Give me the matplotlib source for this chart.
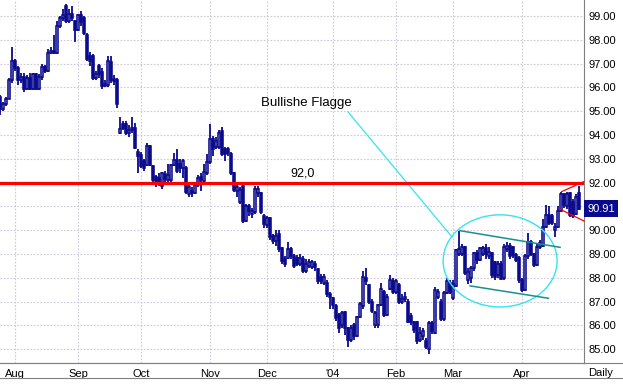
import matplotlib
matplotlib.use("Agg")
import matplotlib.pyplot as plt
import matplotlib.transforms as mtransforms
from matplotlib.patches import Ellipse
from matplotlib.lines import Line2D
import numpy as np

plt.rcParams['font.family'] = ['Liberation Sans', 'DejaVu Sans']

#----------------------------------------------------
# daily bars, late Jul 2003 .. late Apr 2004
opens = [95.6, 95.1, 95.3, 95.5, 96.3, 97.1, 96.8, 96.3, 96.45, 95.95,
         96.4, 95.95, 96.55, 95.95, 96.45, 96.85, 96.7, 97.45, 97.55, 97.45,
         98.6, 98.9, 99.4, 98.8, 99.1, 98.8, 98.4, 99.05, 98.9, 98.2,
         97.3, 97.3, 96.4, 96.9, 96.65, 96.05, 96.1, 97.05, 96.35, 96.3,
         94.1, 94.45, 94.45, 94.1, 94.2, 94.3, 93.3, 93.15, 92.9, 92.75,
         93.55, 92.7, 92.25, 92.2, 91.85, 92.35, 92.1, 92.1, 92.75, 92.95,
         92.8, 92.6, 92.6, 91.5, 91.65, 91.55, 91.9, 92.25, 92.05, 92.4,
         92.85, 93.85, 93.5, 93.5, 94.15, 93.4, 93.4, 93.2, 92.4, 91.65,
         91.2, 91.85, 90.4, 91.0, 90.7, 90.75, 91.55, 91.55, 90.6, 90.2,
         90.5, 89.75, 89.55, 89.85, 89.25, 88.8, 88.85, 89.2, 88.9, 88.85,
         88.6, 88.8, 88.3, 88.5, 88.45, 88.6, 88.35, 88.05, 87.8, 87.8,
         87.3, 87.15, 86.8, 86.45, 86.0, 86.55, 85.9, 85.4, 86.0, 85.55,
         86.35, 86.8, 88.0, 87.7, 87.0, 86.0, 86.0, 86.85, 87.4, 86.45,
         87.55, 87.85, 87.4, 87.7, 87.0, 87.1, 87.0, 86.4, 86.15, 86.15,
         85.4, 85.55, 85.35, 85.0, 86.1, 85.7, 87.2, 87.0, 86.25, 87.35,
         87.8, 87.15, 87.65, 89.0, 89.0, 89.3, 87.9, 88.0, 88.4, 89.05,
         88.75, 89.0, 89.25, 88.9, 89.05, 88.65, 88.1, 88.6, 88.0, 89.2,
         89.35, 89.3, 88.95, 88.85, 87.9, 87.5, 88.9, 89.5, 89.0, 88.55,
         89.3, 89.35, 90.15, 90.65, 90.6, 90.0, 90.15, 90.8, 91.5, 91.0,
         91.55, 91.2, 90.7, 91.55]
highs = [95.7, 95.4, 95.6, 96.4, 97.7, 97.2, 96.9, 96.6, 96.6, 96.5,
         96.6, 96.6, 96.6, 96.55, 97.0, 96.95, 97.6, 97.7, 98.2, 98.8,
         99.0, 99.3, 99.5, 99.3, 99.4, 98.85, 99.1, 99.2, 99.0, 98.3,
         97.5, 97.4, 96.7, 97.0, 96.8, 96.3, 97.3, 97.3, 96.5, 96.4,
         94.75, 94.6, 94.6, 94.4, 94.75, 94.5, 93.4, 93.3, 93.0, 93.65,
         93.6, 92.75, 92.3, 92.4, 92.45, 92.5, 92.8, 92.8, 93.25, 93.4,
         93.0, 93.0, 92.7, 91.9, 91.8, 92.0, 92.3, 92.4, 92.8, 93.2,
         94.45, 93.95, 93.9, 94.2, 94.35, 93.5, 93.5, 93.3, 92.45, 91.9,
         91.8, 91.9, 91.1, 91.1, 90.95, 91.85, 91.85, 91.6, 90.7, 90.6,
         90.55, 89.85, 90.0, 90.0, 89.3, 88.9, 89.5, 89.3, 89.0, 88.95,
         89.0, 88.9, 88.8, 88.8, 88.75, 88.7, 88.4, 88.15, 88.15, 87.9,
         87.4, 87.2, 86.9, 86.5, 86.6, 86.6, 85.95, 86.0, 86.1, 86.4,
         87.0, 88.3, 88.4, 87.75, 87.1, 86.6, 86.9, 87.8, 87.5, 87.3,
         88.1, 88.0, 87.95, 87.8, 87.3, 87.4, 87.1, 86.5, 86.2, 86.2,
         85.95, 85.9, 85.45, 86.2, 86.2, 87.6, 87.55, 87.1, 87.45, 88.0,
         87.9, 87.9, 89.2, 89.95, 89.4, 89.35, 88.4, 88.5, 89.1, 89.15,
         89.3, 89.35, 89.4, 89.3, 89.1, 88.7, 88.7, 88.7, 89.4, 89.5,
         89.45, 89.35, 89.05, 88.9, 88.0, 89.0, 89.9, 89.6, 89.05, 89.4,
         89.6, 90.45, 91.05, 91.0, 90.7, 90.3, 91.0, 91.6, 91.55, 91.6,
         91.6, 91.3, 91.5, 91.85]
lows = [94.85, 95.0, 95.2, 95.5, 96.2, 96.7, 96.1, 96.2, 95.8, 95.9,
        95.9, 95.9, 95.9, 95.9, 96.3, 96.6, 96.65, 97.4, 97.4, 97.4,
        98.5, 98.8, 98.7, 98.7, 98.8, 97.9, 98.35, 98.6, 98.2, 97.1,
        96.9, 96.3, 96.3, 96.4, 95.95, 96.0, 96.0, 96.2, 96.1, 95.15,
        94.05, 94.2, 94.0, 93.9, 94.1, 93.4, 92.4, 92.6, 92.5, 92.7,
        92.7, 92.0, 91.8, 91.85, 91.75, 92.0, 92.0, 92.0, 92.7, 92.4,
        92.4, 92.2, 91.5, 91.4, 91.4, 91.5, 91.8, 91.65, 92.0, 92.3,
        92.8, 93.1, 93.4, 93.4, 93.1, 92.9, 93.1, 92.3, 91.6, 91.4,
        91.1, 90.3, 90.35, 90.6, 90.5, 90.7, 91.4, 90.7, 90.1, 90.1,
        89.6, 89.4, 89.35, 89.1, 88.6, 88.45, 88.8, 88.8, 88.4, 88.5,
        88.5, 88.2, 88.2, 88.4, 88.35, 88.3, 87.75, 87.75, 87.7, 87.2,
        86.7, 86.7, 86.2, 85.7, 85.9, 85.6, 85.1, 85.3, 85.4, 85.5,
        86.3, 86.7, 87.7, 86.9, 86.5, 85.9, 85.9, 86.8, 86.35, 86.4,
        87.5, 87.3, 87.3, 86.9, 86.9, 87.0, 86.1, 86.0, 85.7, 85.2,
        85.3, 85.4, 85.0, 84.8, 85.65, 85.65, 87.1, 86.2, 86.2, 87.3,
        87.3, 87.05, 87.6, 88.9, 88.9, 88.1, 87.75, 87.8, 88.3, 88.6,
        88.7, 88.9, 88.8, 88.8, 88.0, 87.9, 88.0, 87.9, 87.9, 89.1,
        88.8, 88.85, 88.65, 87.8, 87.4, 87.45, 88.8, 88.9, 88.45, 88.5,
        89.2, 89.3, 90.1, 90.2, 90.2, 89.7, 90.1, 90.75, 90.95, 90.9,
        90.55, 90.5, 90.65, 90.85]
closes = [95.1, 95.3, 95.5, 96.3, 97.1, 96.8, 96.3, 96.45, 95.95, 96.4,
          95.95, 96.55, 95.95, 96.45, 96.85, 96.7, 97.45, 97.55, 97.45, 98.6,
          98.9, 99.05, 98.8, 99.1, 98.9, 98.4, 99.05, 98.75, 98.3, 97.2,
          97.1, 96.4, 96.55, 96.55, 96.05, 96.15, 97.1, 96.3, 96.25, 95.3,
          94.25, 94.3, 94.1, 94.2, 94.3, 93.45, 93.1, 92.7, 92.6, 93.55,
          92.75, 92.1, 92.05, 92.0, 92.4, 92.15, 92.3, 92.75, 92.95, 92.5,
          92.6, 92.9, 91.6, 91.8, 91.55, 91.9, 92.2, 92.1, 92.45, 92.85,
          93.85, 93.4, 93.75, 94.1, 93.2, 93.2, 93.25, 92.4, 91.7, 91.8,
          91.7, 90.4, 91.0, 90.8, 90.8, 91.75, 91.75, 90.75, 90.25, 90.5,
          89.7, 89.55, 89.75, 89.2, 88.7, 88.6, 89.2, 88.9, 88.5, 88.6,
          88.85, 88.3, 88.6, 88.65, 88.65, 88.45, 87.85, 87.85, 88.05, 87.3,
          87.2, 86.85, 86.3, 85.9, 86.5, 85.9, 85.4, 85.9, 85.55, 86.35,
          86.9, 88.05, 87.85, 87.0, 86.6, 86.5, 86.85, 87.55, 86.45, 87.2,
          87.9, 87.4, 87.85, 87.0, 87.1, 87.2, 86.15, 86.15, 85.8, 85.35,
          85.7, 85.75, 85.1, 86.1, 85.75, 87.5, 87.4, 86.25, 87.35, 87.85,
          87.4, 87.75, 89.15, 89.2, 89.3, 88.2, 88.25, 88.4, 89.05, 88.75,
          89.25, 89.25, 89.0, 89.1, 88.1, 88.05, 88.6, 87.95, 89.3, 89.35,
          88.9, 88.95, 88.75, 87.9, 87.5, 88.9, 89.5, 89.0, 88.55, 89.3,
          89.45, 90.15, 90.65, 90.3, 90.3, 90.15, 90.8, 91.5, 91.05, 91.5,
          90.65, 90.6, 91.4, 90.91]

month_labels = ["Aug", "Sep", "Oct", "Nov", "Dec", "'04", "Feb", "Mar", "Apr"]
month_bar = [5, 26, 47, 70, 89, 111, 132, 151, 174]   # bar index of first trading day
price_ticks = list(range(85, 100))
level = 92.0
#----------------------------------------------------

navy = '#0a0a8c'
o = np.array(opens); h = np.array(highs); l = np.array(lows); c = np.array(closes)
idx = np.arange(len(c))
up = c >= o

fig = plt.figure(figsize=(6.23, 3.9), dpi=100)
ax = fig.add_axes([0, 27/390, 584/623, 363/390])
ax.set_xlim(0, 584/3)
ax.set_ylim(84.42, 99.672)

# wicks then bodies
ax.vlines(idx, l, h, color=navy, lw=1.3, zorder=3)
body_lo = np.minimum(o, c)
body_h = np.maximum(np.abs(c - o), 0.04)
ax.bar(idx[up], body_h[up], bottom=body_lo[up], width=0.75,
       facecolor='white', edgecolor=navy, lw=1.15, zorder=4)
ax.bar(idx[~up], body_h[~up], bottom=body_lo[~up], width=0.75,
       facecolor=navy, edgecolor=navy, lw=1.15, zorder=4)

# grid
ax.set_xticks(month_bar)
ax.set_xticklabels(month_labels)
ax.set_yticks(price_ticks)
ax.set_yticklabels(["%.2f" % v for v in price_ticks])
ax.grid(True, color='#cfc8d6', ls=(0, (1.5, 1.5)), lw=0.8, zorder=0)
ax.yaxis.tick_right()
ax.tick_params(axis='both', length=0, labelsize=8, colors='black')
ax.tick_params(axis='y', pad=3)
ax.tick_params(axis='x', pad=4)
for s in ['top', 'left']:
    ax.spines[s].set_visible(False)
for s in ['right', 'bottom']:
    ax.spines[s].set_color('#808080')
    ax.spines[s].set_linewidth(0.8)

# resistance level
ax.axhline(level, color='#ff0000', lw=2.3, zorder=6)
ax.text(100.7, level + 0.12, "92,0", ha='center', va='bottom', fontsize=9, zorder=7)

# flag annotation
ax.text(102, 95.34, "Bullishe Flagge", ha='center', va='center', fontsize=9.5)
ax.plot([116, 150.7], [94.97, 89.71], color='#33e4f2', lw=0.9, zorder=5)
ax.add_patch(Ellipse((166.7, 88.71), 38, 3.87, fill=False, ec='#33e4f2', lw=1.0, zorder=5))
ax.plot([153.3, 186.7], [89.98, 89.28], color='#1a8f8f', lw=1.1, zorder=5)
ax.plot([156.7, 182.8], [87.66, 87.14], color='#1a8f8f', lw=1.1, zorder=5)
ax.plot([187.2, 194.6], [91.62, 92.04], color='#ff0000', lw=0.9, zorder=5, clip_on=False)
ax.plot([186.7, 194.6], [90.88, 90.39], color='#ff0000', lw=0.9, zorder=5, clip_on=False)

# last price tag
tr = mtransforms.blended_transform_factory(ax.transAxes, ax.transData)
ax.text(1.006, c[-1], "%.2f" % c[-1], transform=tr, ha='left', va='center',
        fontsize=8, color='white', clip_on=False, zorder=8,
        bbox=dict(boxstyle='square,pad=0.3', fc=navy, ec='none'))

# bottom strip
fig.add_artist(Line2D([0, 1], [27/390, 27/390], color='#808080', lw=0.8))
fig.add_artist(Line2D([0, 1], [12/390, 12/390], color='#808080', lw=0.8))
fig.text(601/623, 17/390, "Daily", ha='center', va='center', fontsize=8)

fig.savefig("out.png", dpi=100)
